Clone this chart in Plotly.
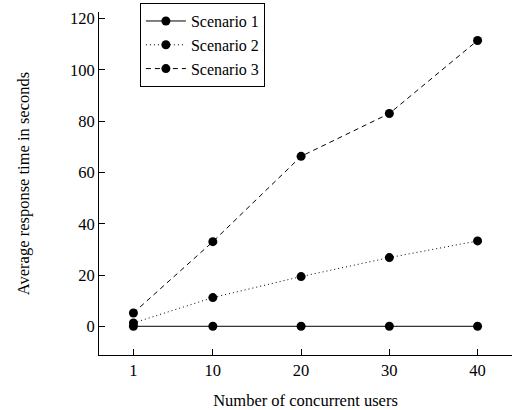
import plotly.graph_objects as go

users = [1, 10, 20, 30, 40]
scenario1 = [0, 0, 0, 0, 0]
scenario2 = [1.3, 11.2, 19.4, 26.8, 33.3]
scenario3 = [5.2, 33.0, 66.3, 83.0, 111.5]
names = ["Scenario 1", "Scenario 2", "Scenario 3"]
dashes = ["solid", "1px,3px", "5px,4px"]

fig = go.Figure()
for name, ys, d in zip(names, [scenario1, scenario2, scenario3], dashes):
    fig.add_trace(go.Scatter(
        x=users, y=ys, name=name, mode="lines+markers",
        line=dict(color="black", width=1, dash=d),
        marker=dict(color="black", size=9, symbol="circle"),
    ))

font = dict(family="Liberation Serif, Times New Roman, serif", size=16.5, color="black")
fig.update_layout(
    width=513, height=410,
    margin=dict(l=99, r=1, t=12, b=55),
    paper_bgcolor="white", plot_bgcolor="white",
    font=font,
    showlegend=True,
    legend=dict(x=0.099, y=1.026, xanchor="left", yanchor="top",
                bordercolor="black", borderwidth=1, bgcolor="white",
                font=dict(family="Liberation Serif, Times New Roman, serif", size=16, color="black"),
                tracegroupgap=0, itemwidth=40),
    xaxis=dict(range=[-2.9, 43.9], tickvals=users, ticktext=[str(u) for u in users],
               showline=True, linecolor="black", linewidth=1, mirror=False,
               ticks="inside", ticklen=6, tickcolor="black", showgrid=False, zeroline=False,
               tickfont=font,
               title=dict(text="Number of concurrent users", font=font, standoff=16)),
    yaxis=dict(range=[-11.2, 122.6], tickvals=[0, 20, 40, 60, 80, 100, 120],
               showline=True, linecolor="black", linewidth=1, mirror=False,
               ticks="inside", ticklen=6, tickcolor="black", showgrid=False, zeroline=False,
               tickfont=font,
               title=dict(text="Average response time in seconds", font=font, standoff=36)),
)
fig.write_html("out.html", config={"displayModeBar": False},
               post_script="document.body.style.margin='0';document.body.style.overflow='hidden';")
